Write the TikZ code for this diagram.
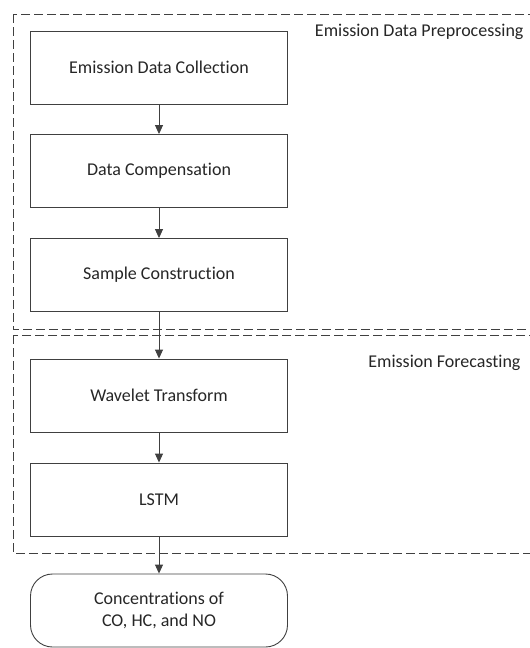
\documentclass[tikz,border=0pt]{standalone}
\usepackage{fontspec}
\setmainfont{Carlito}[Ligatures=NoCommon]
\usetikzlibrary{arrows.meta}
\definecolor{linegray}{HTML}{404040}
\definecolor{textgray}{HTML}{262626}
\tikzset{
    stage/.style={draw=linegray, line width=0.9pt, minimum width=257pt, minimum height=73pt, text=textgray, font=\fontsize{18}{22}\selectfont},
    result/.style={stage, rounded corners=22pt, align=center},
    group/.style={draw=linegray, line width=1pt, dash pattern=on 9pt off 4pt},
    grouplabel/.style={text=textgray, font=\fontsize{18}{22}\selectfont, anchor=east},
    flow/.style={draw=linegray, line width=0.9pt, -{Triangle[width=8pt,length=9pt]}}
}
\begin{document}
\begin{tikzpicture}[x=1pt, y=-1pt]
    \useasboundingbox (0,0) rectangle (530,648);

    % dashed groups
    \draw[group] (13,14) rectangle (545,329);
    \draw[group] (13,335) rectangle (545,553);
    \node[grouplabel](Lpre) at (527,32) {Emission Data Preprocessing};
    \node[grouplabel](Lfor) at (524,363) {Emission Forecasting};

    \node[stage](S1) at (159,67.5) {Emission Data Collection};
    \node[stage](S2) at (159,171) {Data Compensation};
    \node[stage](S3) at (159,275) {Sample Construction};
    \node[stage](S4) at (159,395.5) {Wavelet Transform};
    \node[stage](S5) at (159,499.5) {LSTM};
    \node[result](R) at (159,610.5) {Concentrations of\\CO, HC, and NO};

    \path[flow] (S1) -- (S2);
    \path[flow] (S2) -- (S3);
    \path[flow] (S3) -- (S4);
    \path[flow] (S4) -- (S5);
    \path[flow] (S5) -- (R);
\end{tikzpicture}
\end{document}
